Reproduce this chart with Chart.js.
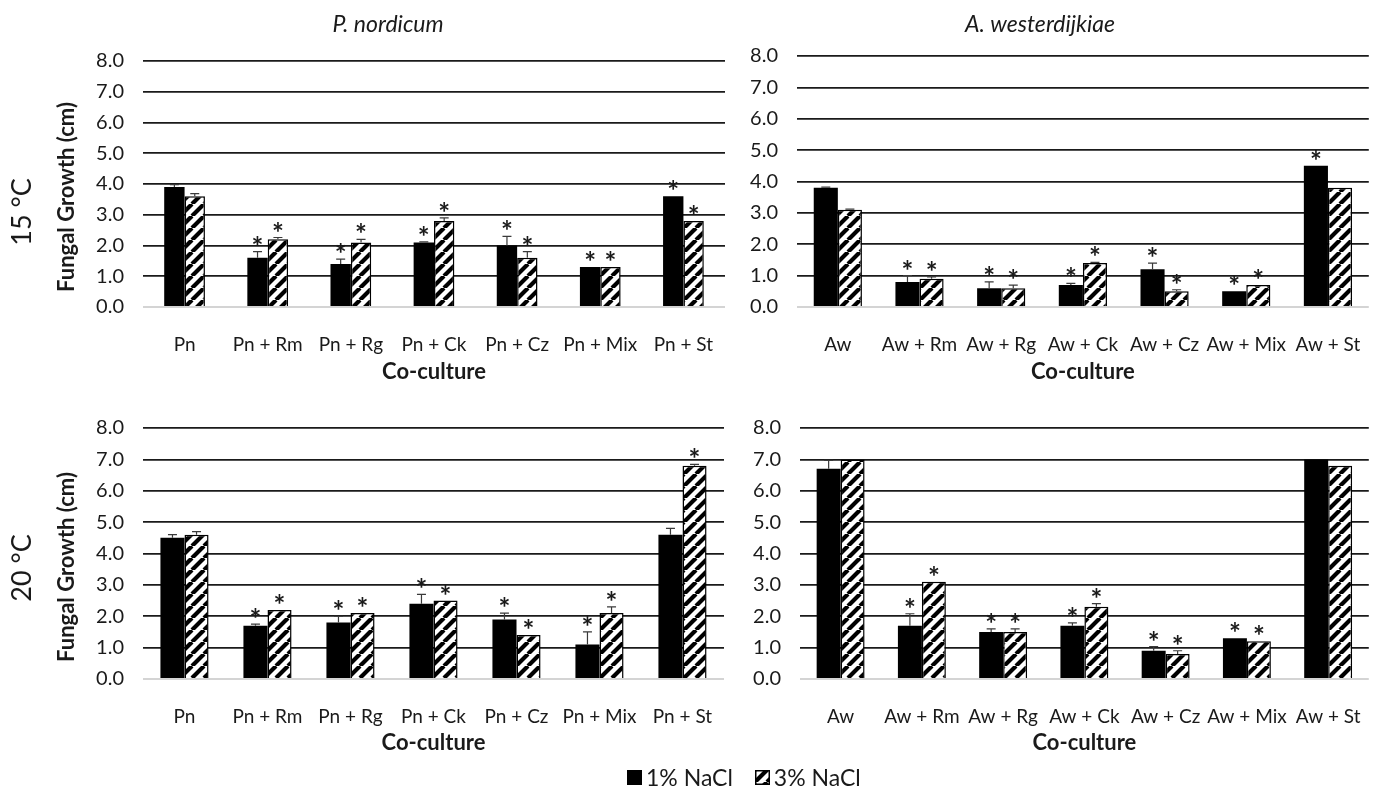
<!DOCTYPE html>
<html>
<head>
<meta charset="utf-8">
<title>Fungal growth in co-culture</title>
<script src="https://cdn.jsdelivr.net/npm/chart.js@4.4.0/dist/chart.umd.min.js"></script>
<style>
  html, body { margin: 0; padding: 0; background: #fff; }
  body { position: relative; width: 1379px; height: 789px; overflow: hidden; font-family: Lato, sans-serif; }
  canvas.panel { position: absolute; }
  #legend { position: absolute; left: 627px; top: 763px; display: flex; align-items: center; font: 23px Lato, sans-serif; color: #1a1a1a; white-space: nowrap; }
  #legend .sw { width: 15px; height: 15px; margin-right: 4px; }
  #legend .item { display: flex; align-items: center; margin-right: 22px; }
</style>
</head>
<body>
<canvas id="pn15" class="panel" width="740" height="390" style="left:0;top:0"></canvas>
<canvas id="aw15" class="panel" width="639" height="390" style="left:740px;top:0"></canvas>
<canvas id="pn20" class="panel" width="740" height="375" style="left:0;top:390px"></canvas>
<canvas id="aw20" class="panel" width="639" height="375" style="left:740px;top:390px"></canvas>
<div id="legend">
  <div class="item"><div class="sw" style="background:#000"></div><span>1% NaCl</span></div>
  <div class="item"><canvas id="swHatch" class="sw" width="15" height="15"></canvas><span>3% NaCl</span></div>
</div>
<script>
// categories
const pnLabels = ['Pn', 'Pn + Rm', 'Pn + Rg', 'Pn + Ck', 'Pn + Cz', 'Pn + Mix', 'Pn + St'];
const awLabels = ['Aw', 'Aw + Rm', 'Aw + Rg', 'Aw + Ck', 'Aw + Cz', 'Aw + Mix', 'Aw + St'];

// P. nordicum, 15 °C
const pn15Nacl1 = [3.9, 1.6, 1.4, 2.1, 2.0, 1.3, 3.6];
const pn15Err1  = [0.08, 0.2, 0.16, 0.02, 0.3, 0, 0];
const pn15Sig1  = [0, 1, 1, 1, 1, 1, 1];
const pn15Nacl3 = [3.6, 2.2, 2.1, 2.8, 1.6, 1.3, 2.8];
const pn15Err3  = [0.09, 0.06, 0.1, 0.1, 0.2, 0, 0];
const pn15Sig3  = [0, 1, 1, 1, 1, 1, 1];

// A. westerdijkiae, 15 °C
const aw15Nacl1 = [3.8, 0.8, 0.6, 0.7, 1.2, 0.5, 4.5];
const aw15Err1  = [0.02, 0.2, 0.2, 0.05, 0.2, 0, 0];
const aw15Sig1  = [0, 1, 1, 1, 1, 1, 1];
const aw15Nacl3 = [3.1, 0.9, 0.6, 1.4, 0.5, 0.7, 3.8];
const aw15Err3  = [0.02, 0.06, 0.1, 0.02, 0.05, 0, 0];
const aw15Sig3  = [0, 1, 1, 1, 1, 1, 0];

// P. nordicum, 20 °C
const pn20Nacl1 = [4.5, 1.7, 1.8, 2.4, 1.9, 1.1, 4.6];
const pn20Err1  = [0.1, 0.05, 0.2, 0.3, 0.2, 0.4, 0.2];
const pn20Sig1  = [0, 1, 1, 1, 1, 1, 0];
const pn20Nacl3 = [4.6, 2.2, 2.1, 2.5, 1.4, 2.1, 6.8];
const pn20Err3  = [0.1, 0, 0, 0, 0, 0.2, 0.04];
const pn20Sig3  = [0, 1, 1, 1, 1, 1, 1];

// A. westerdijkiae, 20 °C
const aw20Nacl1 = [6.7, 1.7, 1.5, 1.7, 0.9, 1.3, 7.0];
const aw20Err1  = [0.27, 0.38, 0.1, 0.09, 0.13, 0, 0];
const aw20Sig1  = [0, 1, 1, 1, 1, 1, 0];
const aw20Nacl3 = [7.0, 3.1, 1.5, 2.3, 0.8, 1.2, 6.8];
const aw20Err3  = [0, 0, 0.1, 0.1, 0.1, 0, 0];
const aw20Sig3  = [0, 1, 1, 1, 1, 1, 0];

const FONT = 'Lato, sans-serif';
const INK = '#1a1a1a';

function makeHatch() {
    const tile = document.createElement('canvas');
    tile.width = 12;
    tile.height = 12;
    const g = tile.getContext('2d');
    g.fillStyle = '#fff';
    g.fillRect(0, 0, 12, 12);
    g.strokeStyle = '#000';
    g.lineWidth = 4.2;
    g.beginPath();
    for (const o of [-12, 0, 12]) {
        g.moveTo(o, 12);
        g.lineTo(o + 12, 0);
    }
    g.stroke();
    return g.createPattern(tile, 'repeat');
}

const hatch = makeHatch();

// error bars, asterisks and the loose text around each panel
const panelDecor = {
    id: 'panelDecor',
    afterDatasetsDraw(chart) {
        const ctx = chart.ctx;
        const yScale = chart.scales.y;
        ctx.save();
        chart.data.datasets.forEach((ds, i) => {
            const meta = chart.getDatasetMeta(i);
            meta.data.forEach((bar, j) => {
                const err = ds.errors[j];
                const topPx = yScale.getPixelForValue(ds.data[j] + err);
                if (err > 0) {
                    ctx.strokeStyle = '#3a3a3a';
                    ctx.lineWidth = 1.2;
                    ctx.beginPath();
                    ctx.moveTo(bar.x, bar.y);
                    ctx.lineTo(bar.x, topPx);
                    ctx.moveTo(bar.x - 4.5, topPx);
                    ctx.lineTo(bar.x + 4.5, topPx);
                    ctx.stroke();
                }
                if (ds.stars[j]) {
                    ctx.fillStyle = INK;
                    ctx.font = 'bold 28px ' + FONT;
                    ctx.textAlign = 'center';
                    ctx.textBaseline = 'alphabetic';
                    ctx.fillText('*', bar.x, topPx + 5);
                }
            });
        });
        ctx.restore();
    },
    afterDraw(chart, args, opts) {
        const ctx = chart.ctx;
        ctx.save();
        ctx.fillStyle = INK;
        ctx.textAlign = 'center';
        ctx.textBaseline = 'middle';
        if (opts.title) {
            ctx.font = 'italic 23px ' + FONT;
            ctx.fillText(opts.title, opts.titleX, 25);
        }
        if (opts.temp) {
            ctx.save();
            ctx.translate(22, opts.tempY);
            ctx.rotate(-Math.PI / 2);
            ctx.font = '27px ' + FONT;
            ctx.fillText(opts.temp, 0, 0);
            ctx.restore();
        }
        if (opts.yTitle) {
            ctx.save();
            ctx.translate(67, opts.yTitleY);
            ctx.rotate(-Math.PI / 2);
            ctx.font = 'bold 22px ' + FONT;
            ctx.fillText(opts.yTitle, 0, 0);
            ctx.restore();
        }
        ctx.restore();
    }
};

function buildPanel(id, cfg) {
    const canvas = document.getElementById(id);
    return new Chart(canvas, {
        type: 'bar',
        data: {
            labels: cfg.labels,
            datasets: [
                {
                    label: '1% NaCl',
                    data: cfg.nacl1,
                    errors: cfg.err1,
                    stars: cfg.sig1,
                    backgroundColor: '#000',
                    borderWidth: 0
                },
                {
                    label: '3% NaCl',
                    data: cfg.nacl3,
                    errors: cfg.err3,
                    stars: cfg.sig3,
                    backgroundColor: hatch,
                    borderColor: '#000',
                    borderWidth: 1.5
                }
            ]
        },
        options: {
            responsive: false,
            animation: false,
            devicePixelRatio: 1,
            layout: {
                padding: cfg.padding
            },
            datasets: {
                bar: {
                    barPercentage: 1,
                    categoryPercentage: cfg.catPct
                }
            },
            plugins: {
                legend: { display: false },
                tooltip: { enabled: false },
                panelDecor: {
                    title: cfg.title,
                    titleX: cfg.titleX,
                    temp: cfg.temp,
                    tempY: cfg.tempY,
                    yTitle: cfg.yTitle,
                    yTitleY: cfg.yTitleY
                }
            },
            scales: {
                x: {
                    grid: { display: false },
                    border: { display: false },
                    ticks: {
                        font: { family: FONT, size: 19 },
                        color: INK,
                        padding: 18,
                        maxRotation: 0,
                        autoSkip: false
                    },
                    title: {
                        display: true,
                        text: 'Co-culture',
                        font: { family: FONT, size: 22, weight: 'bold', lineHeight: 1 },
                        color: INK,
                        padding: { top: 0, bottom: cfg.xTitlePad }
                    },
                    afterFit: (scale) => { scale.height = cfg.xHeight; }
                },
                y: {
                    min: 0,
                    max: 8,
                    ticks: {
                        stepSize: 1,
                        callback: (v) => v.toFixed(1),
                        font: { family: FONT, size: 20 },
                        color: INK,
                        padding: 19
                    },
                    grid: {
                        drawTicks: false,
                        color: (c) => c.tick.value === 0 ? '#d4d4d4' : '#1a1a1a',
                        lineWidth: (c) => c.tick.value === 0 ? 2 : 1.7
                    },
                    border: { display: false },
                    afterFit: (scale) => { scale.width = cfg.yWidth; }
                }
            }
        },
        plugins: [panelDecor]
    });
}

buildPanel('pn15', {
    labels: pnLabels,
    nacl1: pn15Nacl1, err1: pn15Err1, sig1: pn15Sig1,
    nacl3: pn15Nacl3, err3: pn15Err3, sig3: pn15Sig3,
    catPct: 0.49,
    padding: { left: 0, right: 15, top: 61, bottom: 0 },
    yWidth: 143, xHeight: 83, xTitlePad: 7,
    title: 'P. nordicum', titleX: 388,
    temp: '15 °C', tempY: 212, yTitle: 'Fungal Growth (cm)', yTitleY: 197
});

buildPanel('aw15', {
    labels: awLabels,
    nacl1: aw15Nacl1, err1: aw15Err1, sig1: aw15Sig1,
    nacl3: aw15Nacl3, err3: aw15Err3, sig3: aw15Sig3,
    catPct: 0.59,
    padding: { left: 0, right: 10, top: 56, bottom: 0 },
    yWidth: 57, xHeight: 83, xTitlePad: 7,
    title: 'A. westerdijkiae', titleX: 300
});

buildPanel('pn20', {
    labels: pnLabels,
    nacl1: pn20Nacl1, err1: pn20Err1, sig1: pn20Sig1,
    nacl3: pn20Nacl3, err3: pn20Err3, sig3: pn20Sig3,
    catPct: 0.58,
    padding: { left: 0, right: 16, top: 38, bottom: 0 },
    yWidth: 143, xHeight: 86, xTitlePad: 11,
    temp: '20 °C', tempY: 178, yTitle: 'Fungal Growth (cm)', yTitleY: 177
});

buildPanel('aw20', {
    labels: awLabels,
    nacl1: aw20Nacl1, err1: aw20Err1, sig1: aw20Sig1,
    nacl3: aw20Nacl3, err3: aw20Err3, sig3: aw20Sig3,
    catPct: 0.59,
    padding: { left: 0, right: 7, top: 38, bottom: 0 },
    yWidth: 60, xHeight: 86, xTitlePad: 11
});

// legend swatch for the hatched series
const sw = document.getElementById('swHatch').getContext('2d');
sw.fillStyle = hatch;
sw.fillRect(0, 0, 15, 15);
sw.strokeStyle = '#000';
sw.lineWidth = 1.5;
sw.strokeRect(0.75, 0.75, 13.5, 13.5);
</script>
</body>
</html>
